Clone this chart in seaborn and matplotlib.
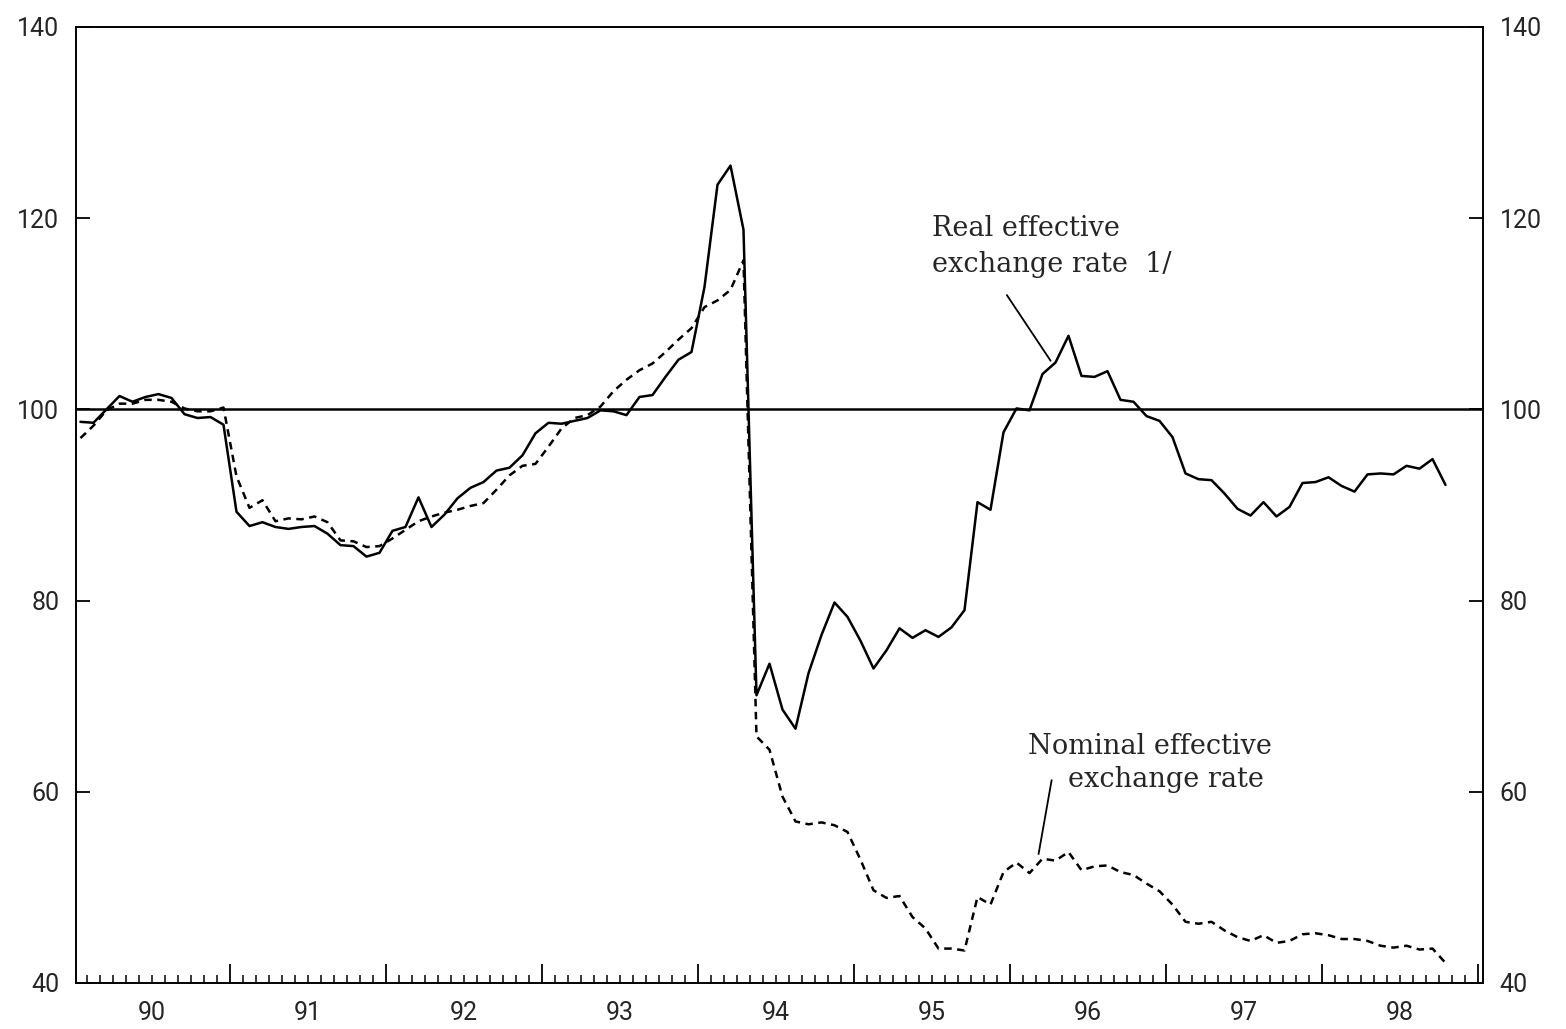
import pandas as pd
import numpy as np
import matplotlib.pyplot as plt
import seaborn as sns
from matplotlib.ticker import MultipleLocator

# monthly index, Jan 1990 - Oct 1998
months = pd.period_range('1990-01', '1998-10', freq='M')

real = [
    98.7, 98.6, 100.0, 101.4, 100.8, 101.3, 101.6, 101.2, 99.5, 99.1, 99.2, 98.4,
    89.3, 87.8, 88.2, 87.7, 87.5, 87.7, 87.8, 87.0, 85.8, 85.7, 84.6, 85.0,
    87.3, 87.7, 90.8, 87.7, 89.0, 90.7, 91.8, 92.4, 93.6, 93.9, 95.2, 97.5,
    98.6, 98.5, 98.8, 99.1, 99.9, 99.8, 99.4, 101.3, 101.5, 103.4, 105.2, 106.0,
    112.8, 123.5, 125.5, 118.8, 70.1, 73.4, 68.6, 66.6, 72.4, 76.4, 79.8, 78.3,
    75.8, 72.9, 74.8, 77.1, 76.1, 76.9, 76.2, 77.2, 79.0, 90.3, 89.5, 97.6,
    100.1, 99.9, 103.7, 104.9, 107.7, 103.5, 103.4, 104.0, 101.0, 100.8, 99.3, 98.8,
    97.1, 93.3, 92.7, 92.6, 91.2, 89.6, 88.9, 90.3, 88.8, 89.8, 92.3, 92.4,
    92.9, 92.0, 91.4, 93.2, 93.3, 93.2, 94.1, 93.8, 94.8, 92.1,
]

nominal = [
    97.0, 98.3, 99.9, 100.6, 100.6, 101.0, 101.0, 100.8, 100.1, 99.8, 99.8, 100.2,
    93.0, 89.7, 90.5, 88.3, 88.6, 88.5, 88.8, 88.2, 86.3, 86.2, 85.6, 85.7,
    86.5, 87.4, 88.3, 88.8, 89.2, 89.5, 89.9, 90.2, 91.6, 93.1, 94.1, 94.3,
    96.1, 98.0, 99.1, 99.4, 100.3, 101.9, 103.1, 104.1, 104.8, 106.0, 107.3, 108.5,
    110.7, 111.4, 112.5, 115.6, 65.8, 64.4, 59.5, 56.9, 56.6, 56.8, 56.5, 55.8,
    52.9, 49.7, 48.9, 49.1, 46.9, 45.7, 43.6, 43.6, 43.4, 49.0, 48.2, 51.6,
    52.6, 51.5, 53.0, 52.8, 53.7, 51.8, 52.2, 52.3, 51.6, 51.3, 50.4, 49.6,
    48.2, 46.4, 46.2, 46.4, 45.5, 44.8, 44.4, 45.0, 44.2, 44.4, 45.1, 45.2,
    45.0, 44.6, 44.6, 44.4, 43.9, 43.7, 43.9, 43.5, 43.6, 42.1,
]

years = list(range(1990, 1999))
year_labels = ['90', '91', '92', '93', '94', '95', '96', '97', '98']

df = pd.DataFrame({
    't': months.year + (months.month - 0.5) / 12,
    'real': real,
    'nominal': nominal,
})

sns.set_style('ticks')
plt.rcParams['font.family'] = ['Roboto', 'DejaVu Sans']

fig = plt.figure(figsize=(15.66, 10.29), dpi=100)
ax = fig.add_axes([76 / 1566, 1 - 983 / 1029, (1483 - 76) / 1566, (983 - 27) / 1029])

sns.lineplot(data=df, x='t', y='real', color='black', lw=1.8, ax=ax)
sns.lineplot(data=df, x='t', y='nominal', color='black', lw=1.8,
             linestyle=(0, (3, 2.2)), ax=ax)
ax.axhline(100, color='black', lw=1.8)

ax.set_xlim(1990.013, 1999.032)
ax.set_ylim(40, 140)
ax.set_xlabel('')
ax.set_ylabel('')

ax.xaxis.set_major_locator(MultipleLocator(1))
ax.xaxis.set_minor_locator(MultipleLocator(1 / 12))
ax.tick_params(axis='x', which='major', direction='in', length=14, width=1.3,
               labelbottom=False, color='black')
ax.tick_params(axis='x', which='minor', direction='in', length=6, width=1.1,
               color='black')

ax.set_yticks(range(40, 141, 20))
ax.tick_params(axis='y', direction='in', length=10, width=1.3, left=True,
               right=True, labelleft=True, labelright=True, labelsize=18,
               pad=12, color='black')

sec = ax.secondary_xaxis('bottom')
sec.set_xticks([y + 0.5 for y in years], labels=year_labels)
sec.tick_params(length=0, labelsize=18, pad=13)
sec.spines['bottom'].set_visible(False)

for s in ax.spines.values():
    s.set_visible(True)
    s.set_linewidth(1.4)
    s.set_color('black')

serif = ['DejaVu Serif']
fs = 19.5
ax.text(1995.5, 118.1, 'Real effective', family=serif, fontsize=fs,
        va='baseline', ha='left')
ax.text(1995.5, 114.4, 'exchange rate  1/', family=serif, fontsize=fs,
        va='baseline', ha='left')
ax.text(1996.9, 64.0, 'Nominal effective', family=serif, fontsize=fs,
        va='baseline', ha='center')
ax.text(1997.0, 60.5, 'exchange rate', family=serif, fontsize=fs,
        va='baseline', ha='center')

ax.annotate('', xy=(1996.27, 104.85), xytext=(1995.97, 112.2),
            arrowprops=dict(arrowstyle='-', color='black', lw=1.3))
ax.annotate('', xy=(1996.18, 53.2), xytext=(1996.27, 61.5),
            arrowprops=dict(arrowstyle='-', color='black', lw=1.3))

fig.savefig('out.png', dpi=100)
